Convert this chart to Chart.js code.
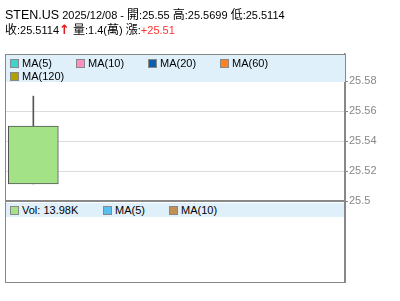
<!DOCTYPE html>
<html>
<head>
<meta charset="utf-8">
<script src="https://cdn.jsdelivr.net/npm/chart.js@4"></script>
<style>
  body { margin: 0; background: #fff; font-family: "Liberation Sans", Arial, "Noto Sans CJK TC", sans-serif; }
  #wrap { position: relative; width: 400px; height: 301px; }
  canvas { position: absolute; left: 0; top: 0; }
  .hdr { position: absolute; left: 5px; white-space: nowrap; color: #000; font-size: 11px; }
  .cjk { font-size: 12px; }
  .arrow { color: #e02020; font-weight: bold; font-size: 13px; line-height: 11px; font-family: "DejaVu Sans", sans-serif; }
  .band { position: absolute; background: #dff0fa; font-size: 11px; color: #000; }
  .item { position: absolute; white-space: nowrap; line-height: 12px; }
  .sw { display: inline-block; width: 7px; height: 7px; border: 1px solid #888; margin-right: 3px; vertical-align: -1px; }
</style>
</head>
<body>
<div id="wrap">
  <canvas id="myChart" width="400" height="301"></canvas>
  <div class="hdr" style="top:5px"><span style="font-size:12.5px">STEN.US</span> <span id="line1"></span></div>
  <div class="hdr" style="top:20px"><span id="line2"></span></div>
  <div class="band" id="priceLegend" style="left:6px;top:55px;width:339px;height:27px"></div>
  <div class="band" id="volLegend" style="left:6px;top:203px;width:338px;height:14px"></div>
</div>
<script>
// one trading day
const dates = ['2025/12/08'];
const open = [25.55];
const high = [25.5699];
const low = [25.5114];
const close = [25.5114];
const volume = [13980];
const change = ['+25.51'];

const priceTicks = [25.5, 25.52, 25.54, 25.56, 25.58];
const slotCount = 6;

const priceLegend = ['MA(5)', 'MA(10)', 'MA(20)', 'MA(60)', 'MA(120)'];
const priceLegendColors = ['#3fd3d0', '#ff8fc0', '#0b5fb0', '#ff8020', '#b0a000'];
const volLegend = ['Vol: ' + (volume[0] / 1000).toFixed(2) + 'K', 'MA(5)', 'MA(10)'];
const volLegendColors = ['#a3e286', '#58c0ee', '#c29050'];

// header text
const cjk = (s) => '<span class="cjk">' + s + '</span>';
document.getElementById('line1').innerHTML =
  dates[0] + ' - ' + cjk('開') + ':' + open[0] + ' ' + cjk('高') + ':' + high[0] + ' ' + cjk('低') + ':' + low[0];
document.getElementById('line2').innerHTML =
  cjk('收') + ':' + close[0] + '<span class="arrow">↑</span> ' + cjk('量') + ':' +
  (volume[0] / 10000).toFixed(1) + '(' + cjk('萬') + ') ' + cjk('漲') + ':<span style="color:#ff3030">' + change[0] + '</span>';

function fillLegend(el, names, colors, positions) {
  names.forEach((name, i) => {
    const d = document.createElement('div');
    d.className = 'item';
    d.style.left = positions[i][0] + 'px';
    d.style.top = positions[i][1] + 'px';
    d.innerHTML = '<span class="sw" style="background:' + colors[i] + '"></span>' + name;
    el.appendChild(d);
  });
}
fillLegend(document.getElementById('priceLegend'), priceLegend, priceLegendColors,
  [[4, 2], [70, 2], [142, 2], [214, 2], [4, 15]]);
fillLegend(document.getElementById('volLegend'), volLegend, volLegendColors,
  [[4, 1], [97, 1], [163, 1]]);

const labels = dates.concat(Array(slotCount - dates.length).fill(''));

// frame and the price/volume separator
const framePlugin = {
  id: 'frame',
  afterDraw(chart) {
    const ctx = chart.ctx;
    const a = chart.chartArea;
    const y = chart.scales.y.getPixelForValue(priceTicks[0]);
    ctx.save();
    ctx.strokeStyle = '#888';
    ctx.lineWidth = 1;
    ctx.strokeRect(a.left + 0.5, a.top + 0.5, a.right - a.left, a.bottom - a.top);
    ctx.lineWidth = 2;
    ctx.beginPath();
    ctx.moveTo(a.left, y);
    ctx.lineTo(a.right, y);
    ctx.stroke();
    ctx.restore();
  }
};

new Chart(document.getElementById('myChart'), {
  type: 'bar',
  data: {
    labels: labels,
    datasets: [
      {
        label: 'body',
        data: open.map((o, i) => [o, close[i]]),
        backgroundColor: '#a3e286',
        borderColor: '#555',
        borderWidth: 1,
        borderSkipped: false,
        barThickness: 50,
        grouped: false,
        order: 0
      },
      {
        label: 'wick',
        data: low.map((l, i) => [l, high[i]]),
        backgroundColor: '#555',
        barThickness: 1,
        grouped: false,
        order: 1
      }
    ]
  },
  options: {
    responsive: false,
    animation: false,
    layout: { padding: { left: 5, top: 54, bottom: 19, right: 0 } },
    plugins: { legend: { display: false }, tooltip: { enabled: false } },
    scales: {
      x: { display: false, offset: true },
      y: {
        position: 'right',
        min: 25.446,
        max: 25.598,
        afterBuildTicks: (scale) => { scale.ticks = priceTicks.map(v => ({ value: v })); },
        afterFit: (scale) => { scale.width = 55; },
        grid: { color: '#dcdcdc', tickLength: 3, tickColor: '#888' },
        border: { color: '#888', width: 1.5 },
        ticks: {
          color: '#888',
          padding: 1,
          font: { family: '"Liberation Sans", Arial', size: 11 },
          callback: (v) => String(v)
        }
      }
    }
  },
  plugins: [framePlugin]
});
</script>
</body>
</html>
